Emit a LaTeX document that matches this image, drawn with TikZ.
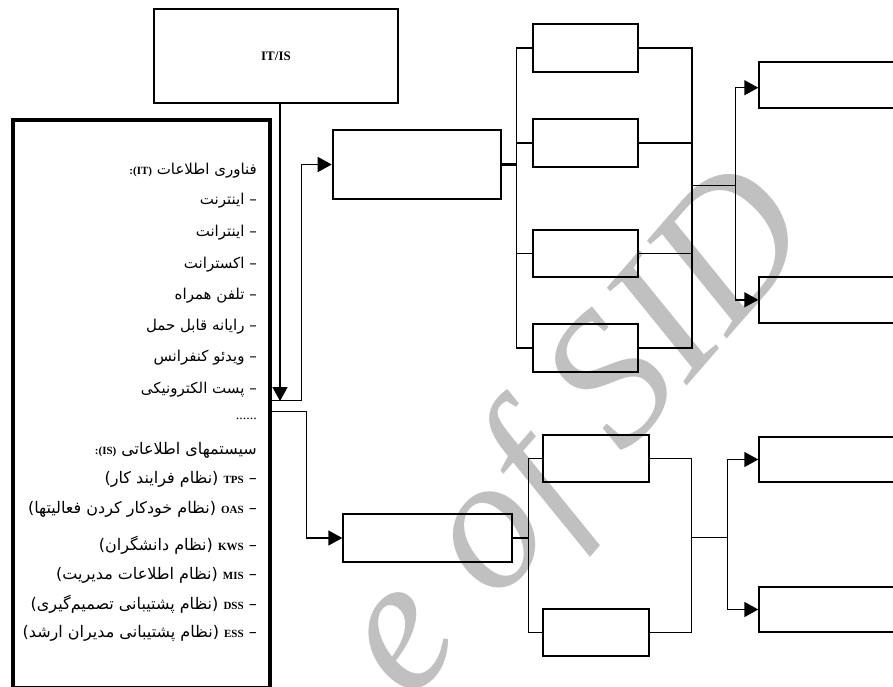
\documentclass[tikz,border=0pt]{standalone}
\usepackage{fontspec}
\setmainfont{Liberation Serif}
\newfontfamily\fa[Script=Arabic]{DejaVu Sans}
\TeXXeTstate=1
\usetikzlibrary{arrows.meta}
\definecolor{wm}{HTML}{C0C0C0}
\newcommand\faT{\fa\fontsize{15}{17}\selectfont}
\newcommand\faB{\fa\fontsize{16}{18}\selectfont}
\newcommand\latb[1]{{\rmfamily\bfseries\fontsize{11}{13}\selectfont #1}}
\begin{document}
\begin{tikzpicture}[x=1pt,y=-1pt,
  box/.style={draw, line width=2pt, inner sep=0pt, rectangle},
  conn/.style={line width=1.5pt},
  arr/.style={line width=1.5pt, -{Triangle[length=14pt,width=15pt]}},
  fatxt/.style={anchor=east, inner sep=0pt, font=\faT},
  fabtxt/.style={anchor=east, inner sep=0pt, font=\faB},
]
\useasboundingbox (0,0) rectangle (893,686);
\clip (0,0) rectangle (893,686);
% watermark
\node[anchor=base west, rotate=49, inner sep=0pt, text=wm,
      font=\fontsize{190}{190}\selectfont\itshape] (wmark) at (410,704) {e of SID};
% boxes
\node[box, minimum width=244pt, minimum height=93.4pt,
      font=\bfseries\fontsize{13}{15}\selectfont] (itis) at (276,56) {IT/IS};
\node[box, line width=4pt, minimum width=257pt, minimum height=568.5pt] (left) at (141,403.75) {};
\node[box, minimum width=168.6pt, minimum height=68.4pt] (A) at (417,164.5) {};
\node[box, minimum width=105.6pt, minimum height=47.5pt] (B1) at (585.5,48.2) {};
\node[box, minimum width=105.6pt, minimum height=47.5pt] (B2) at (585.5,143) {};
\node[box, minimum width=105.6pt, minimum height=47.5pt] (B3) at (585.5,253.7) {};
\node[box, minimum width=105.6pt, minimum height=47.5pt] (B4) at (585.5,348.2) {};
\node[box, minimum width=141pt, minimum height=45.4pt] (C1) at (829.8,85) {};
\node[box, minimum width=141pt, minimum height=45.4pt] (C2) at (829.8,299.8) {};
\node[box, minimum width=168.4pt, minimum height=47.4pt] (D) at (427.5,538) {};
\node[box, minimum width=105.7pt, minimum height=47.3pt] (E1) at (596.2,458.7) {};
\node[box, minimum width=105.7pt, minimum height=47.3pt] (E2) at (596.2,632.7) {};
\node[box, minimum width=141pt, minimum height=45.6pt] (F1) at (829.8,459.5) {};
\node[box, minimum width=141pt, minimum height=45.6pt] (F2) at (829.8,609.5) {};
% junction coordinates
\coordinate (itisend) at (280,401);
\coordinate (j1) at (301.7,400.7);
\coordinate (j2) at (306.7,411.7);
\coordinate (bl) at (516.7,0);
\coordinate (br) at (692,185.3);
\coordinate (vt) at (735.7,185.3);
\coordinate (bl2) at (528.3,0);
\coordinate (br2) at (691.7,537.7);
\coordinate (vt2) at (727.3,537.7);
% connectors
\draw[arr] (itis.south -| itisend) -- (itisend);
\draw[arr] (left.east |- j1) -- (j1) |- (A.west);
\draw[arr] (left.east |- j2) -- (j2) |- (D.west);
\draw[conn, line width=3pt] (A.east) -- (A.east -| bl);
\draw[conn] (B1.west) -| (bl |- B4.west) -- (B4.west);
\draw[conn] (B2.west) -- (B2.west -| bl);
\draw[conn] (B3.west) -- (B3.west -| bl);
\draw[conn] (B1.east) -| (br |- B4.east) -- (B4.east);
\draw[conn] (B2.east) -- (B2.east -| br);
\draw[conn] (B3.east) -- (B3.east -| br);
\draw[conn] (br) -- (vt);
\draw[arr] (vt) |- ([yshift=-2.7pt]C1.west);
\draw[arr] (vt) |- (C2.west);
\draw[conn] (D.east) -- (D.east -| bl2);
\draw[conn] (E1.west) -| (bl2 |- E2.west) -- (E2.west);
\draw[conn] (E1.east) -| (br2 |- E2.east) -- (E2.east);
\draw[conn] (br2) -- (vt2);
\draw[arr] (vt2) |- (F1.west);
\draw[arr] (vt2) |- (F2.west);
% text list
\node[fatxt] (t1) at (257,171) {\beginR فناوری اطلاعات \beginL\latb{:(IT)}\endL\endR};
\node[fatxt] (t2) at (257,200.5) {\beginR – اینترنت\endR};
\node[fatxt] (t3) at (257,233) {\beginR – اینترانت\endR};
\node[fatxt] (t4) at (257,265) {\beginR – اکسترانت\endR};
\node[fatxt] (t5) at (257,296) {\beginR – تلفن همراه\endR};
\node[fatxt] (t6) at (257,327) {\beginR – رایانه قابل حمل\endR};
\node[fatxt] (t7) at (257,358) {\beginR – ویدئو کنفرانس\endR};
\node[fatxt] (t8) at (257,390) {\beginR – پست الکترونیکی\endR};
\node[anchor=east, inner sep=0pt, font=\fontsize{14}{16}\selectfont] (t9) at (257,419) {......};
\node[fabtxt] (t10) at (257,450) {\beginR سیستمهای اطلاعاتی \beginL\latb{:(IS)}\endL\endR};
\node[fabtxt] (t11) at (257,479) {\beginR – \beginL\latb{TPS}\endL{} (نظام فرایند کار)\endR};
\node[fabtxt] (t12) at (257,509) {\beginR – \beginL\latb{OAS}\endL{} (نظام خودکار کردن فعالیتها)\endR};
\node[fabtxt] (t13) at (257,545) {\beginR – \beginL\latb{KWS}\endL{} (نظام دانشگران)\endR};
\node[fabtxt] (t14) at (257,575) {\beginR – \beginL\latb{MIS}\endL{} (نظام اطلاعات مدیریت)\endR};
\node[fabtxt] (t15) at (257,604) {\beginR – \beginL\latb{DSS}\endL{} (نظام پشتیبانی تصمیم‌گیری)\endR};
\node[fabtxt] (t16) at (257,633) {\beginR – \beginL\latb{ESS}\endL{} (نظام پشتیبانی مدیران ارشد)\endR};
\end{tikzpicture}
\end{document}
